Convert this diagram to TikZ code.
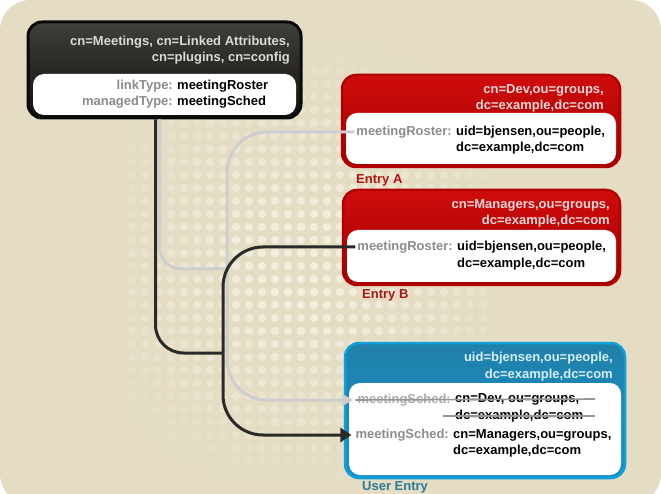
\documentclass[tikz,border=0pt]{standalone}
\usepackage{fontspec}
\setmainfont{Liberation Sans}
\usepackage{xcolor}
\usetikzlibrary{arrows.meta,positioning,calc}

\definecolor{panel}{RGB}{228,221,196}
\definecolor{paneldot}{RGB}{242,238,222}
\definecolor{cfgtop}{RGB}{64,63,57}
\definecolor{cfgbot}{RGB}{16,16,14}
\definecolor{cfgrim}{RGB}{10,10,10}
\definecolor{cfghead}{RGB}{218,218,214}
\definecolor{redtop}{RGB}{208,12,12}
\definecolor{redbot}{RGB}{160,0,0}
\definecolor{redrim}{RGB}{178,0,0}
\definecolor{redhead}{RGB}{246,214,214}
\definecolor{redtag}{RGB}{172,22,22}
\definecolor{bluetop}{RGB}{34,128,170}
\definecolor{bluebot}{RGB}{18,146,202}
\definecolor{bluerim}{RGB}{14,160,216}
\definecolor{bluehead}{RGB}{214,238,248}
\definecolor{bluetag}{RGB}{44,122,150}
\definecolor{linkgray}{RGB}{206,206,206}
\definecolor{linkdark}{RGB}{42,42,40}
\definecolor{keygray}{RGB}{140,140,140}
\definecolor{oldgray}{RGB}{172,172,172}
\definecolor{strikegray}{RGB}{150,150,150}

\begin{document}
\begin{tikzpicture}[x=1pt, y=-1pt,
    entry/.style={rectangle, rounded corners=14pt, line width=2.5pt, draw=#1rim, top color=#1top, bottom color=#1bot},
    inner/.style={rectangle, rounded corners=11pt, fill=white, draw=none},
    head/.style={font=\fontsize{13}{16.5}\selectfont\bfseries, text=#1, align=right, anchor=east, inner sep=0pt},
    key/.style={font=\fontsize{13}{16.5}\selectfont\bfseries, text=#1, align=right, anchor=east, inner sep=2pt},
    val/.style={font=\fontsize{13}{16.5}\selectfont\bfseries, text=black, align=left, anchor=west, inner sep=0pt},
    tag/.style={font=\fontsize{13}{16.5}\selectfont\bfseries, text=#1, anchor=west, inner sep=0pt},
    link/.style={line width=3pt, draw=#1},
    strike/.style={line width=1.6pt, draw=strikegray}
]
\useasboundingbox (0,0) rectangle (661,494);
\clip (0,0) rectangle (661,494);
\fill[white] (0,0) rectangle (661,494);

% Panel with faded dots
\fill[panel, rounded corners=30pt] (0,0) rectangle (661,504);
\foreach \i in {0,...,27} {
  \foreach \j in {0,...,33} {
    \pgfmathsetmacro\dx{132+13*\i}
    \pgfmathsetmacro\dy{45+13*\j}
    \pgfmathsetmacro\op{max(0,min(1,1.25*(1-veclen(\dx-305,\dy-265)/240)))}
    \fill[paneldot, opacity=\op] (\dx,\dy) circle (4.2pt);
  }
}

% Linked attributes config entry
\node[entry=cfg, line width=3pt, minimum width=273pt, minimum height=96pt] (cfg) at (164.5,70) {};
\node[inner, minimum width=263pt, minimum height=41pt] (cfgin) at (164.5,94.5) {};
\node[head=cfghead] (cfgdn) at (290,50) {cn=Meetings, cn=Linked Attributes,\\cn=plugins, cn=config};
\node[key=keygray] (cfgkey) at (175,94) {linkType:\\managedType:};
\node[val] (cfgval) at (177,94) {meetingRoster\\meetingSched};

% Entry A
\node[entry=red, minimum width=278pt, minimum height=92pt] (entA) at (481,121) {};
\node[inner, minimum width=270pt, minimum height=51pt] (entAin) at (481,138.5) {};
\node[head=redhead] (dnA) at (604,98.5) {cn=Dev,ou=groups,\\dc=example,dc=com};
\node[key=keygray] (rosA) at (454,132) {meetingRoster:};
\node[val] (rosAval) at (456,140) {uid=bjensen,ou=people,\\dc=example,dc=com};
\node[tag=redtag] (tagA) at (356,180) {Entry A};

% Entry B
\node[entry=red, minimum width=277pt, minimum height=95pt] (entB) at (481.5,237.5) {};
\node[inner, minimum width=269pt, minimum height=52pt] (entBin) at (481.5,256) {};
\node[head=redhead] (dnB) at (610,213.5) {cn=Managers,ou=groups,\\dc=example,dc=com};
\node[key=keygray] (rosB) at (455,247) {meetingRoster:};
\node[val] (rosBval) at (457,255.5) {uid=bjensen,ou=people,\\dc=example,dc=com};
\node[tag=redtag] (tagB) at (362,295) {Entry B};

% User entry
\node[entry=blue, minimum width=280pt, minimum height=135pt] (user) at (485,410.5) {};
\node[inner, minimum width=272pt, minimum height=92pt] (userin) at (485,429) {};
\node[head=bluehead] (dnU) at (613,366.5) {uid=bjensen,ou=people,\\dc=example,dc=com};
\node[key=oldgray] (schedOld) at (453,400) {meetingSched:};
\node[val] (schedOldval) at (455,408) {cn=Dev, ou=groups,\\dc=example,dc=com};
\node[key=keygray] (schedNew) at (451,435) {meetingSched:};
\node[val] (schedNewval) at (453,443.5) {cn=Managers,ou=groups,\\dc=example,dc=com};
\node[tag=bluetag] (tagU) at (362,487) {User Entry};
\draw[strike] (schedOld.west) -- (595,399);
\draw[strike] (443,416) -- (595,416);

% Links
\coordinate (jgray) at (227,269);
\coordinate (jdark) at (223,353);
\draw[link=linkgray, rounded corners=22pt] ([xshift=133pt]cfg.south west) |- (jgray);
\draw[link=linkgray, rounded corners=40pt, -{Triangle[length=11pt,width=11pt]}] (rosA.west) -| (jgray) |- ([xshift=-2pt]schedOld.west);
\draw[link=linkdark, rounded corners=28pt] ([xshift=129pt]cfg.south west) |- (jdark);
\draw[link=linkdark, rounded corners=40pt, -{Triangle[length=11pt,width=14pt]}] (rosB.west) -| (jdark) |- ([xshift=-2pt]schedNew.west);
\end{tikzpicture}
\end{document}
